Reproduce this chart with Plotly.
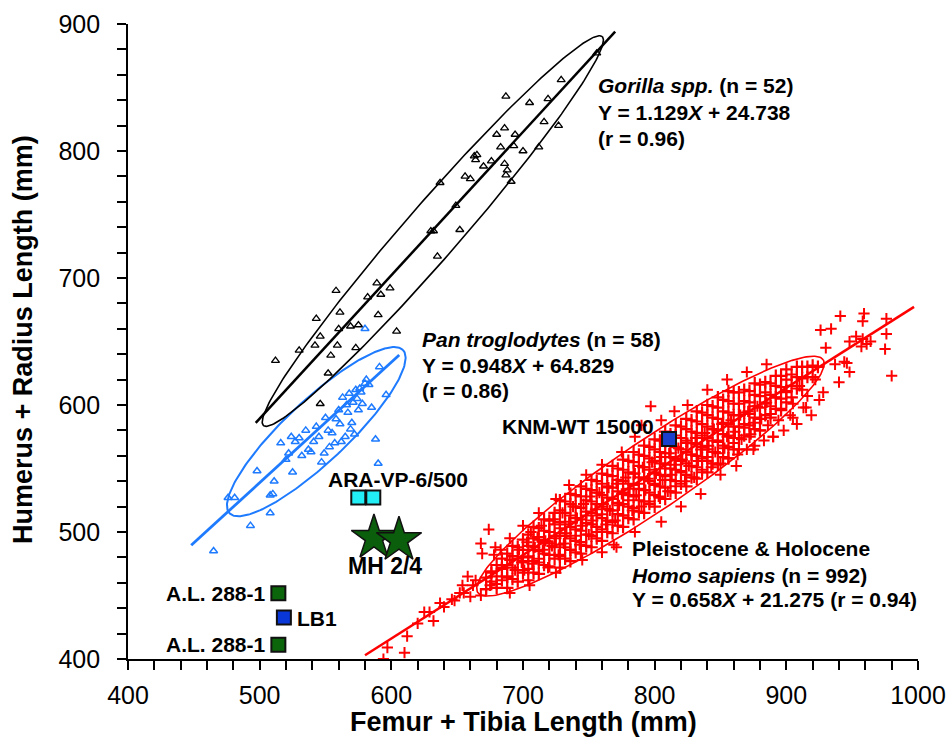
import numpy as np
import plotly.graph_objects as go

# ---------------- data ----------------
gorilla_x = [756, 729, 687, 705, 719, 716, 727, 680, 686, 694, 683, 693, 712, 663, 665, 664, 670, 676,
             686, 656, 660, 687, 691, 637, 649, 630, 632, 652, 635, 558, 589, 599, 582, 592, 543, 561,
             590, 560, 569, 604, 546, 542, 530, 559, 573, 512, 554, 552, 546, 575, 688, 700]
gorilla_y = [877, 856, 843, 838, 841, 823, 820, 813, 818, 813, 803, 804, 803, 796, 797, 793, 788, 792,
             790, 780, 778, 781, 776, 775, 757, 737, 737, 738, 717, 690, 696, 692, 685, 687, 668, 673,
             671, 660, 662, 658, 654, 647, 643, 647, 645, 635, 639, 625, 601, 663, 785, 800]

pan_x = [465, 476, 481, 493, 498, 508, 508, 510, 511, 516, 520, 522, 524, 525, 527, 530, 532, 535,
         537, 539, 541, 543, 545, 547, 549, 550, 552, 553, 555, 557, 558, 560, 561, 562, 563, 565,
         566, 567, 568, 569, 570, 571, 572, 573, 574, 575, 576, 577, 578, 580, 581, 583, 585, 588,
         590, 591, 596, 580]
pan_y = [485, 527, 527, 505, 548, 515, 529, 530, 540, 570, 557, 562, 575, 547, 571, 574, 560, 580,
         565, 563, 571, 583, 575, 555, 562, 590, 580, 567, 578, 570, 589, 596, 585, 571, 606, 575,
         600, 594, 609, 581, 586, 602, 577, 612, 605, 596, 613, 610, 601, 617, 620, 616, 598, 573,
         554, 630, 608, 660]

# Homo sapiens: sparse tail and fringe points
homo_tail_x = [594, 597, 610, 612, 620, 625, 629, 632, 637, 640, 646, 648, 652, 654, 655, 658, 660, 662,
               664, 668, 672, 675, 676, 680, 684, 688, 690, 694, 697, 699]
homo_tail_y = [400, 409, 405, 418, 428, 437, 437, 430, 444, 441, 447, 446, 452, 458, 452, 465, 449, 458,
               462, 450, 455, 458, 468, 459, 472, 464, 478, 470, 486, 476]
homo_fringe_x = [674, 668, 679, 669, 678, 683, 690, 700, 712, 725, 735, 748, 760, 775, 785, 797, 790, 805,
                 815, 825, 840, 855, 870, 885, 941, 959, 958, 976, 934, 926, 930, 953, 948, 958, 964, 957,
                 961, 976, 975, 937, 944, 946, 948, 980, 769, 771, 805, 760, 785, 820, 835, 850, 862, 875,
                 890, 905, 915, 928, 940, 745, 725, 705, 690]
homo_fringe_y = [502, 491, 488, 483, 482, 486, 495, 505, 515, 526, 537, 545, 553, 563, 575, 599, 584, 588,
                 595, 600, 612, 620, 626, 632, 670, 672, 666, 668, 660, 659, 645, 654, 650, 652, 650, 646,
                 648, 656, 644, 632, 634, 633, 626, 623, 490, 488, 508, 484, 500, 520, 530, 545, 552, 565,
                 575, 590, 598, 610, 618, 478, 468, 458, 452]
homo_band_x = [701, 703, 704, 706, 707, 709, 711, 712, 714, 715, 717, 719, 720, 722, 723, 725, 727, 728, 730,
               731, 733, 735, 736, 738, 740, 741, 743, 745, 746, 748, 750, 751, 753, 755, 756, 758, 760, 761,
               763, 765, 766, 768, 770, 771, 773, 775, 776, 778, 780, 781, 783, 785, 786, 788, 790, 791, 793,
               795, 796, 798, 800, 801, 803, 805, 806, 808, 810, 811, 813, 815, 816, 818, 820, 821, 823, 825,
               826, 828, 830, 831, 833, 835, 836, 838, 840, 841, 843, 845, 846, 848, 850, 851, 853, 855, 856,
               858, 860, 861, 863, 865, 866, 868, 870, 871, 873, 875, 876, 878, 880, 881, 883, 885, 886, 888,
               890, 892, 894, 896, 898, 900, 903, 905, 908, 910, 913, 916, 919, 922, 925]
homo_band_y = [470, 492, 481, 500, 475, 488, 496, 479, 505, 486, 493, 472, 500, 489, 510, 495, 482, 503, 515,
               491, 499, 508, 486, 520, 497, 511, 490, 505, 522, 513, 498, 528, 509, 518, 500, 531, 514, 522,
               506, 535, 517, 526, 509, 538, 521, 530, 513, 543, 525, 534, 517, 546, 529, 538, 520, 551, 533,
               542, 524, 555, 537, 546, 528, 559, 541, 550, 532, 562, 545, 553, 536, 566, 548, 557, 540, 570,
               552, 561, 543, 574, 556, 565, 547, 578, 559, 568, 551, 581, 563, 572, 554, 585, 566, 575, 558,
               588, 570, 579, 561, 592, 573, 582, 565, 595, 577, 586, 568, 599, 580, 589, 572, 602, 584, 593,
               575, 606, 588, 597, 580, 610, 592, 601, 585, 615, 598, 607, 592, 620, 604]
# dense core, read column by column (x, then the y values in that column)
homo_col_x = [672, 676, 680, 684, 688, 692, 696, 700, 704, 708, 712, 716, 720, 724, 728, 732, 736, 740,
              744, 748, 752, 756, 760, 764, 768, 772, 776, 780, 784, 788, 792, 796, 800, 804, 808, 812,
              816, 820, 824, 828, 832, 836, 840, 844, 848, 852, 856, 860, 864, 868, 872, 876, 880, 884,
              888, 892, 896, 900, 904, 908, 912, 916, 920, 924]
homo_col_y = [[455, 464], [461, 469], [456, 465, 474], [462, 471, 479], [456, 465, 474, 483],
              [463, 472, 481, 489], [461, 470, 479, 488], [468, 477, 486, 494], [462, 471, 480, 489, 498],
              [468, 477, 486, 495, 504], [467, 476, 485, 494, 503], [474, 483, 492, 501, 510],
              [473, 482, 491, 500, 509], [479, 488, 497, 506, 515], [472, 481, 490, 499, 508, 517, 525],
              [479, 488, 497, 506, 515, 524], [477, 486, 495, 504, 513, 522, 530],
              [484, 493, 502, 511, 520, 529], [483, 492, 501, 510, 519, 528, 536],
              [489, 498, 507, 516, 525, 534], [488, 497, 506, 515, 524, 533, 541],
              [495, 504, 513, 522, 531, 540], [493, 502, 511, 520, 529, 538, 546],
              [500, 509, 518, 527, 536, 545], [499, 508, 517, 526, 535, 544, 552],
              [505, 514, 523, 532, 541, 550], [504, 513, 522, 531, 540, 549, 557],
              [511, 520, 529, 538, 547, 556], [510, 519, 528, 537, 546, 555, 563],
              [516, 525, 534, 543, 552, 561], [515, 524, 533, 542, 551, 560, 568],
              [522, 531, 540, 549, 558, 567], [520, 529, 538, 547, 556, 565, 573],
              [527, 536, 545, 554, 563, 572], [526, 535, 544, 553, 562, 571, 579],
              [532, 541, 550, 559, 568, 577], [531, 540, 549, 558, 567, 576, 584],
              [538, 547, 556, 565, 574, 583], [536, 545, 554, 563, 572, 581, 589],
              [543, 552, 561, 570, 579, 588], [542, 551, 560, 569, 578, 587, 595],
              [549, 558, 567, 576, 585, 594], [547, 556, 565, 574, 583, 592, 600],
              [554, 563, 572, 581, 590, 599], [553, 562, 571, 580, 589, 598, 606],
              [559, 568, 577, 586, 595, 604], [558, 567, 576, 585, 594, 603, 611],
              [565, 574, 583, 592, 601, 610], [565, 574, 583, 592, 601, 610],
              [576, 585, 594, 603, 612], [575, 584, 593, 602, 611], [581, 590, 599, 608, 617],
              [580, 589, 598, 607, 616], [592, 601, 610, 618], [590, 599, 608, 617], [597, 606, 615, 623],
              [596, 605, 614, 623], [602, 611, 620, 628], [606, 615, 624], [613, 622, 630], [612, 621, 630],
              [622, 630], [622, 631], [630]]

# regression fits (slope, intercept, x-start, x-end)
gorilla_fit = [1.129, 24.738, 497, 770]
pan_fit = [0.948, 64.829, 448, 606]
homo_fit = [0.658, 21.275, 580, 997]

# 95% ellipses: centre x, centre y, semi-major, semi-minor, angle (deg)
gorilla_ell = [631.5, 737.0, 200.0, 21.0, 50.0]
pan_ell = [543.0, 579.0, 92.0, 24.0, 44.4]
homo_ell = [796.8, 544.0, 160.0, 27.0, 35.0]

ara_x = [574.9, 586.3]
ara_y = [527.2, 527.2]
mh_x = [586.8, 605.8]
mh_y = [495.4, 493.7]
knm_x = [810.9]
knm_y = [573.2]
al_x = [514.2, 514.2]
al_y = [451.7, 411.3]
lb1_x = [518.4]
lb1_y = [432.7]


def ellipse(p, n=240):
    cx, cy, a, b, ang = p
    t = np.linspace(0, 2 * np.pi, n)
    th = np.radians(ang)
    x = cx + a * np.cos(t) * np.cos(th) - b * np.sin(t) * np.sin(th)
    y = cy + a * np.cos(t) * np.sin(th) + b * np.sin(t) * np.cos(th)
    return x, y


def fitline(f):
    s, c, x0, x1 = f
    xs = np.array([x0, x1])
    return xs, s * xs + c


col_x = [x for x, ys in zip(homo_col_x, homo_col_y) for _ in ys]
col_y = [y for ys in homo_col_y for y in ys]
homo_x = homo_tail_x + homo_fringe_x + homo_band_x
homo_y = homo_tail_y + homo_fringe_y + homo_band_y

BLACK = "#000000"
BLUE = "#1E7BFF"
RED = "#FF0000"

fig = go.Figure()

# Homo sapiens
fig.add_trace(go.Scatter(x=col_x, y=col_y, mode="markers",
                         marker=dict(symbol="cross-thin", size=9, line=dict(color=RED, width=2.2)),
                         showlegend=False))
fig.add_trace(go.Scatter(x=homo_x, y=homo_y, mode="markers",
                         marker=dict(symbol="cross-thin", size=8, line=dict(color=RED, width=2)),
                         showlegend=False))
ex, ey = ellipse(homo_ell)
fig.add_trace(go.Scatter(x=ex, y=ey, mode="lines", line=dict(color=RED, width=1.6), showlegend=False))
lx, ly = fitline(homo_fit)
fig.add_trace(go.Scatter(x=lx, y=ly, mode="lines", line=dict(color=RED, width=2.5), showlegend=False))

# Pan
fig.add_trace(go.Scatter(x=pan_x, y=pan_y, mode="markers",
                         marker=dict(symbol="triangle-up-open", size=7, color=BLUE, line=dict(width=1.5)),
                         showlegend=False))
ex, ey = ellipse(pan_ell)
fig.add_trace(go.Scatter(x=ex, y=ey, mode="lines", line=dict(color=BLUE, width=2), showlegend=False))
lx, ly = fitline(pan_fit)
fig.add_trace(go.Scatter(x=lx, y=ly, mode="lines", line=dict(color=BLUE, width=2.8), showlegend=False))

# Gorilla
fig.add_trace(go.Scatter(x=gorilla_x, y=gorilla_y, mode="markers",
                         marker=dict(symbol="triangle-up-open", size=7, color=BLACK, line=dict(width=1.3)),
                         showlegend=False))
ex, ey = ellipse(gorilla_ell)
fig.add_trace(go.Scatter(x=ex, y=ey, mode="lines", line=dict(color=BLACK, width=1.6), showlegend=False))
lx, ly = fitline(gorilla_fit)
fig.add_trace(go.Scatter(x=lx, y=ly, mode="lines", line=dict(color=BLACK, width=2.5), showlegend=False))

# fossils
sq_line = dict(color="#111111", width=2)
fig.add_trace(go.Scatter(x=ara_x, y=ara_y, mode="markers",
                         marker=dict(symbol="square", size=14, color="#22EEF6", line=sq_line), showlegend=False))
fig.add_trace(go.Scatter(x=mh_x, y=mh_y, mode="markers",
                         marker=dict(symbol="star", size=34, color="#0B5E0B", line=dict(color="#111111", width=1.5)),
                         showlegend=False))
fig.add_trace(go.Scatter(x=knm_x, y=knm_y, mode="markers",
                         marker=dict(symbol="square", size=14, color="#1A3FCC", line=sq_line), showlegend=False))
fig.add_trace(go.Scatter(x=al_x, y=al_y, mode="markers",
                         marker=dict(symbol="square", size=14, color="#0B660B", line=sq_line), showlegend=False))
fig.add_trace(go.Scatter(x=lb1_x, y=lb1_y, mode="markers",
                         marker=dict(symbol="square", size=14, color="#0A37D8", line=sq_line), showlegend=False))

FONT = "Liberation Sans, Arial, sans-serif"
anns = [
    (755.4, 851.2, "left", "<b><i>Gorilla spp.</i> (n = 52)</b>", 21),
    (755.4, 830.7, "left", "<b>Y = 1.129<i>X</i> + 24.738</b>", 21),
    (755.4, 810.2, "left", "<b>(r = 0.96)</b>", 21),
    (621.8, 651.2, "left", "<b><i>Pan troglodytes</i> (n = 58)</b>", 21),
    (621.8, 631.1, "left", "<b>Y = 0.948<i>X</i> + 64.829</b>", 21),
    (621.8, 611.4, "left", "<b>(r = 0.86)</b>", 21),
    (781.5, 487.4, "left", "<b>Pleistocene &amp; Holocene</b>", 21),
    (781.5, 465.7, "left", "<b><i>Homo sapiens</i> (n = 992)</b>", 21),
    (781.5, 446.5, "left", "<b>Y = 0.658<i>X</i> + 21.275 (r = 0.94)</b>", 21),
    (801.0, 582.7, "right", "<b>KNM-WT 15000</b>", 21),
    (605.3, 541.7, "center", "<b>ARA-VP-6/500</b>", 21),
    (595.2, 473.2, "center", "<b>MH 2/4</b>", 23),
    (506.6, 451.4, "right", "<b>A.L. 288-1</b>", 21),
    (506.6, 411.4, "right", "<b>A.L. 288-1</b>", 21),
    (526.8, 432.0, "left", "<b>LB1</b>", 21),
]
for x, y, xa, txt, fs in anns:
    fig.add_annotation(x=x, y=y, xref="x", yref="y", xanchor=xa, yanchor="middle", text=txt,
                       showarrow=False, font=dict(family=FONT, size=fs, color="#000000"))

fig.add_annotation(x=0.5, y=(659 - 722) / 635, xref="paper", yref="paper",
                   text="<b>Femur + Tibia Length (mm)</b>", showarrow=False,
                   xanchor="center", yanchor="middle", font=dict(family=FONT, size=27, color="#000"))
fig.add_annotation(x=(23 - 128) / 790, y=(659 - 340) / 635, xref="paper", yref="paper",
                   text="<b>Humerus + Radius Length (mm)</b>", showarrow=False, textangle=-90,
                   xanchor="center", yanchor="middle", font=dict(family=FONT, size=27, color="#000"))

axis_common = dict(showgrid=False, zeroline=False, showline=True, linecolor="#000", linewidth=1.8,
                   ticks="outside", ticklen=9, tickwidth=1.5, tickcolor="#000", automargin=False,
                   tickfont=dict(family=FONT, size=25, color="#000"),
                   minor=dict(dtick=20, ticks="outside", ticklen=9, tickwidth=1.5, tickcolor="#000"))
fig.update_xaxes(range=[400, 1000], dtick=100, tick0=0, ticklabelstandoff=4, **axis_common)
fig.update_yaxes(range=[400, 900], dtick=100, tick0=0, ticklabelstandoff=12, **axis_common)

fig.update_layout(width=951, height=742, margin=dict(l=128, r=33, t=24, b=83, autoexpand=False),
                  plot_bgcolor="white", paper_bgcolor="white", showlegend=False)

# remove the browser's default 8 px page margin so the figure fills the window exactly
fig.write_html("out.html", config={"displayModeBar": False},
               post_script="document.body.style.margin='0';document.body.style.overflow='hidden';")
